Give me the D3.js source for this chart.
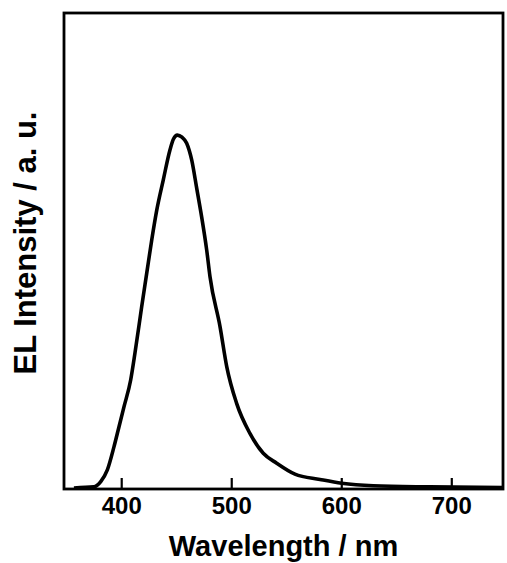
<!DOCTYPE html>
<meta charset="utf-8">
<style>
  body { margin: 0; background: #fff; }
  text { font-family: "Liberation Sans", Arial, Helvetica, sans-serif; font-weight: bold; fill: #000; }
</style>
<svg width="507" height="563"></svg>
<script src="https://d3js.org/d3.v7.min.js"></script>
<script>
// EL spectrum (wavelength in nm, intensity normalised to the peak)
var wavelength = [357, 375, 381.4, 387.4, 393.4, 398, 402.5, 408.6, 412.5, 418.6, 423.2, 427.7, 432.3, 438.2, 444.3, 447.5, 451,
  455.2, 459.5, 464.1, 468.6, 473.1, 477.7, 480.7, 489.8, 495.9, 504.9, 517, 529.1, 541.3, 557.9, 580.7, 600.4, 629.1, 680.6, 747];
var intensity = [0.003, 0.006, 0.021, 0.054, 0.119, 0.176, 0.232, 0.308, 0.384, 0.515, 0.61, 0.703, 0.788, 0.873, 0.958, 0.989, 1.0,
  0.994, 0.977, 0.929, 0.85, 0.769, 0.675, 0.6, 0.459, 0.346, 0.242, 0.157, 0.101, 0.073, 0.042, 0.027, 0.016, 0.009, 0.006, 0.004];
var xTicks = [400, 500, 600, 700];

var svg = d3.select("svg"),
    mLeft = 64, mRight = 503, mTop = 13, mBottom = 489;

var x = d3.scaleLinear().domain([348, 747]).range([mLeft, mRight]);
var y = d3.scaleLinear().domain([0, 1.345]).range([mBottom, mTop]);

// frame
svg.append("rect")
    .attr("x", mLeft).attr("y", mTop)
    .attr("width", mRight - mLeft).attr("height", mBottom - mTop)
    .attr("fill", "none").attr("stroke", "#000").attr("stroke-width", 2.8);

// inward ticks on the bottom axis
var xAxis = d3.axisBottom(x).tickValues(xTicks).tickSizeInner(-11).tickSizeOuter(0);
var gx = svg.append("g").attr("transform", "translate(0," + mBottom + ")").call(xAxis);
gx.select(".domain").remove();
gx.selectAll(".tick line").attr("stroke", "#000").attr("stroke-width", 2.2);
gx.selectAll(".tick text")
    .attr("font-size", 24)
    .attr("font-family", "Liberation Sans, Arial, sans-serif")
    .attr("font-weight", "bold")
    .attr("fill", "#000")
    .attr("dy", null)
    .attr("y", 25);

var data = wavelength.map(function(w, i) { return [w, intensity[i]]; });
var line = d3.line()
    .x(function(d) { return x(d[0]); })
    .y(function(d) { return y(d[1]); })
    .curve(d3.curveMonotoneX);

svg.append("path")
    .datum(data)
    .attr("d", line)
    .attr("fill", "none")
    .attr("stroke", "#000")
    .attr("stroke-width", 3.6)
    .attr("stroke-linejoin", "round");

svg.append("text")
    .attr("x", (mLeft + mRight) / 2).attr("y", 556)
    .attr("text-anchor", "middle")
    .attr("font-size", 29)
    .text("Wavelength / nm");

svg.append("text")
    .attr("transform", "translate(36,243) rotate(-90)")
    .attr("text-anchor", "middle")
    .attr("font-size", 31)
    .text("EL Intensity / a. u.");
</script>
